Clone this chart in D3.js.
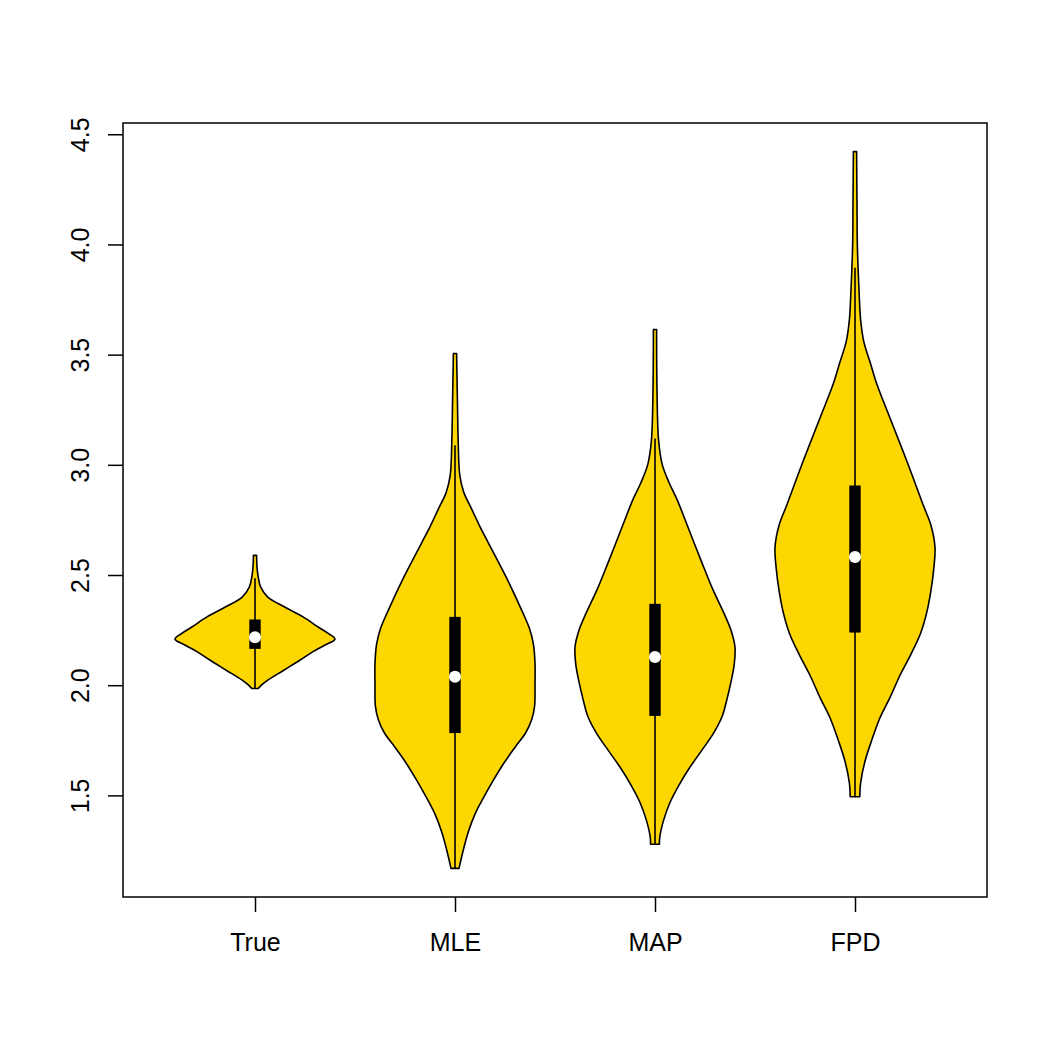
<!DOCTYPE html>
<html>
<head>
<meta charset="utf-8">
<script src="https://cdn.jsdelivr.net/npm/d3@7"></script>
<style>
  body { margin: 0; background: #fff; }
  text { font-family: 'Liberation Sans', Arial, Helvetica, sans-serif; }
</style>
</head>
<body>
<script>
const width = 1050;
const height = 1050;
const margin = { top: 123, right: 63, bottom: 153, left: 123 };

const categories = ['True', 'MLE', 'MAP', 'FPD'];
const yTicks = [1.5, 2.0, 2.5, 3.0, 3.5, 4.0, 4.5];

// five-number summaries
const mins = [1.985, 1.169, 1.278, 1.494];
const q1s = [2.168, 1.786, 1.864, 2.242];
const medians = [2.218, 2.038, 2.128, 2.582];
const q3s = [2.295, 2.307, 2.366, 2.903];
const maxs = [2.589, 3.505, 3.614, 4.421];

// density outlines: [value, relative half width]
const trueDensity = [
  [2.589, 0.02], [2.536, 0.025], [2.491, 0.04], [2.446, 0.07], [2.400, 0.16],
  [2.355, 0.37], [2.310, 0.6], [2.264, 0.79], [2.234, 0.92], [2.209, 1.0],
  [2.181, 0.87], [2.151, 0.72], [2.113, 0.56], [2.068, 0.36], [2.023, 0.16],
  [2.0, 0.08], [1.985, 0.04]
];
const mleDensity = [
  [3.505, 0.02], [3.30, 0.03], [3.106, 0.04], [2.952, 0.06], [2.875, 0.11],
  [2.798, 0.21], [2.721, 0.31], [2.644, 0.42], [2.490, 0.64], [2.335, 0.84],
  [2.258, 0.93], [2.186, 0.98], [2.100, 1.0], [2.000, 1.0], [1.905, 0.995],
  [1.846, 0.96], [1.782, 0.88], [1.723, 0.76], [1.646, 0.61], [1.569, 0.48],
  [1.492, 0.36], [1.415, 0.25], [1.338, 0.17], [1.261, 0.11], [1.169, 0.05]
];
const mapDensity = [
  [3.614, 0.02], [3.342, 0.025], [3.111, 0.045], [3.002, 0.09], [2.920, 0.175],
  [2.843, 0.275], [2.719, 0.41], [2.562, 0.58], [2.437, 0.72], [2.328, 0.86],
  [2.249, 0.95], [2.172, 1.0], [2.093, 0.99], [2.015, 0.95], [1.937, 0.9],
  [1.859, 0.84], [1.781, 0.73], [1.702, 0.58], [1.624, 0.43], [1.547, 0.3],
  [1.470, 0.19], [1.390, 0.11], [1.312, 0.06], [1.278, 0.055]
];
const fpdDensity = [
  [4.421, 0.02], [4.185, 0.025], [3.990, 0.03], [3.795, 0.05], [3.659, 0.07],
  [3.559, 0.11], [3.464, 0.19], [3.364, 0.275], [3.210, 0.44], [3.015, 0.65],
  [2.820, 0.85], [2.725, 0.95], [2.626, 1.0], [2.530, 0.985], [2.431, 0.95],
  [2.335, 0.9], [2.236, 0.82], [2.141, 0.7], [2.043, 0.56], [1.946, 0.44],
  [1.850, 0.31], [1.751, 0.21], [1.655, 0.125], [1.556, 0.07], [1.494, 0.06]
];
const densities = [trueDensity, mleDensity, mapDensity, fpdDensity];

const svg = d3
  .select('body')
  .append('svg')
  .attr('width', width)
  .attr('height', height);

// R style 4% axis extension
const lo = d3.min(mins);
const hi = d3.max(maxs);
const pad = (hi - lo) * 0.04;
const y = d3
  .scaleLinear()
  .domain([lo - pad, hi + pad])
  .range([height - margin.bottom, margin.top]);
const x = d3
  .scaleLinear()
  .domain([0.5 - 0.16, categories.length + 0.5 + 0.16])
  .range([margin.left, width - margin.right]);

const halfW = x(0.4) - x(0);
const boxHalf = x(0.025) - x(0);

categories.forEach((name, i) => {
  const cx = x(i + 1);
  const area = d3
    .area()
    .curve(d3.curveCatmullRom.alpha(0.5))
    .y(d => y(d[0]))
    .x0(d => cx - d[1] * halfW)
    .x1(d => cx + d[1] * halfW);

  svg
    .append('path')
    .datum(densities[i])
    .attr('d', area)
    .attr('fill', '#FFD700')
    .attr('stroke', '#000')
    .attr('stroke-width', 1.6)
    .attr('stroke-linejoin', 'round');

  const iqr = q3s[i] - q1s[i];
  const upper = Math.min(q3s[i] + 1.5 * iqr, maxs[i]);
  const lower = Math.max(q1s[i] - 1.5 * iqr, mins[i]);

  svg
    .append('line')
    .attr('x1', cx)
    .attr('x2', cx)
    .attr('y1', y(upper))
    .attr('y2', y(lower))
    .attr('stroke', '#000')
    .attr('stroke-width', 1.6);

  svg
    .append('rect')
    .attr('x', cx - boxHalf)
    .attr('width', boxHalf * 2)
    .attr('y', y(q3s[i]))
    .attr('height', y(q1s[i]) - y(q3s[i]))
    .attr('fill', '#000')
    .attr('stroke', '#000')
    .attr('stroke-width', 1.4);

  svg
    .append('circle')
    .attr('cx', cx)
    .attr('cy', y(medians[i]))
    .attr('r', 6)
    .attr('fill', '#fff');
});

// plot frame
svg
  .append('rect')
  .attr('x', margin.left)
  .attr('y', margin.top)
  .attr('width', width - margin.left - margin.right)
  .attr('height', height - margin.top - margin.bottom)
  .attr('fill', 'none')
  .attr('stroke', '#000')
  .attr('stroke-width', 1.5);

const yAxis = svg
  .append('g')
  .attr('transform', `translate(${margin.left},0)`)
  .call(
    d3
      .axisLeft(y)
      .tickValues(yTicks)
      .tickSize(15)
      .tickSizeOuter(0)
      .tickFormat(d3.format('.1f'))
  );
yAxis.select('.domain').remove();
yAxis.selectAll('line').attr('stroke-width', 1.5);
yAxis
  .selectAll('text')
  .attr('transform', 'rotate(-90)')
  .attr('x', 0)
  .attr('y', -34)
  .attr('dy', 0)
  .attr('text-anchor', 'middle')
  .attr('font-size', 25)
  .attr('fill', '#000');

const xAxis = svg
  .append('g')
  .attr('transform', `translate(0,${height - margin.bottom})`)
  .call(
    d3
      .axisBottom(x)
      .tickValues(categories.map((d, i) => i + 1))
      .tickSize(15)
      .tickSizeOuter(0)
      .tickPadding(21)
      .tickFormat(d => categories[d - 1])
  );
xAxis.select('.domain').remove();
xAxis.selectAll('line').attr('stroke-width', 1.5);
xAxis
  .selectAll('text')
  .attr('font-size', 25)
  .attr('fill', '#000');
</script>
</body>
</html>
